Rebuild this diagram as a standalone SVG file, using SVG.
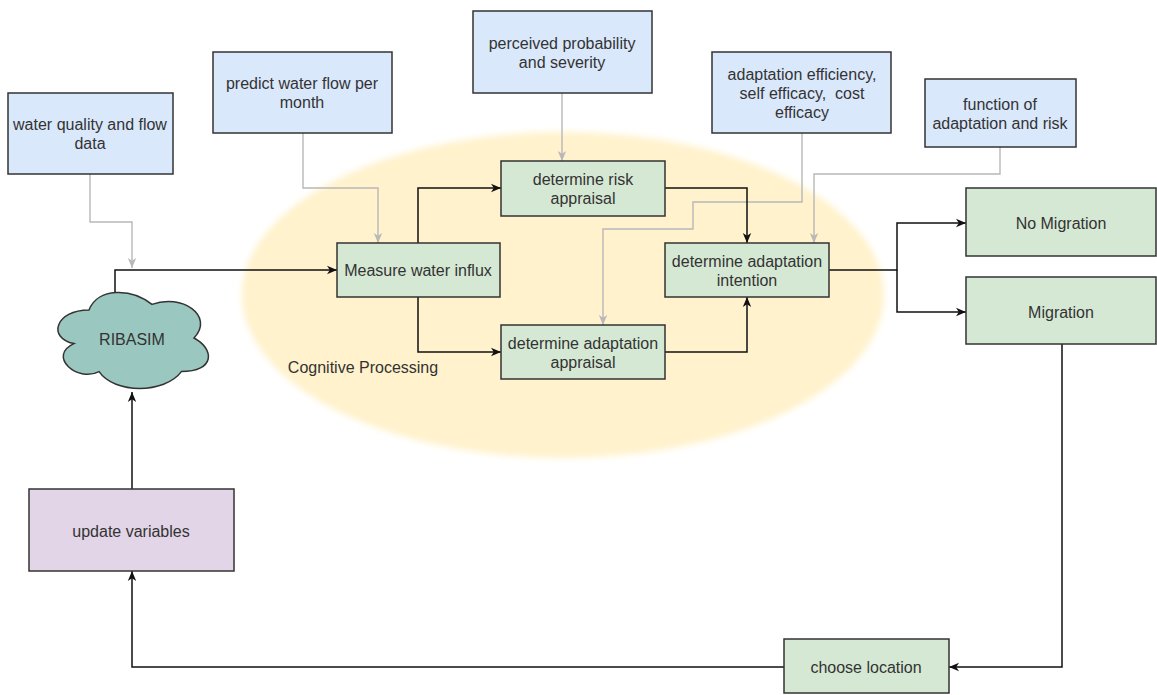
<svg xmlns="http://www.w3.org/2000/svg" width="1157" height="695" viewBox="0 0 1157 695">
<style>
  text { font-family: "Liberation Sans", Arial, sans-serif; font-size: 16px; fill: #333333; text-anchor: middle; }
  .blue { fill: #dae8fc; stroke: #333333; stroke-width: 1.5; }
  .green { fill: #d5e8d4; stroke: #333333; stroke-width: 1.5; }
  .purple { fill: #e1d5e7; stroke: #333333; stroke-width: 1.5; }
  .cloud { fill: #9ac7bf; stroke: #333333; stroke-width: 1.5; }
  .blk { fill: none; stroke: #111111; stroke-width: 1.5; marker-end: url(#ab); }
  .blkn { fill: none; stroke: #111111; stroke-width: 1.5; }
  .gry { fill: none; stroke: #b8b8b8; stroke-width: 1.4; marker-end: url(#ag); }
</style>
<defs>
  <marker id="ab" markerUnits="userSpaceOnUse" markerWidth="12" markerHeight="12" refX="10" refY="5" orient="auto">
    <path d="M0,0.8 L10,5 L0,9.2 L2.8,5 Z" fill="#111111"/>
  </marker>
  <marker id="ag" markerUnits="userSpaceOnUse" markerWidth="12" markerHeight="12" refX="10" refY="5" orient="auto">
    <path d="M0,0.8 L10,5 L0,9.2 L2.8,5 Z" fill="#b8b8b8"/>
  </marker>
  <filter id="soft" x="-10%" y="-10%" width="120%" height="120%">
    <feGaussianBlur stdDeviation="3"/>
  </filter>
</defs>
<rect width="1157" height="695" fill="#ffffff"/>

<g id="cognitive-processing">
  <ellipse cx="563" cy="295" rx="321" ry="163" fill="#fff2cc" filter="url(#soft)"/>
  <text x="363" y="373">Cognitive Processing</text>
</g>

<g id="connectors">
  <path class="gry" d="M90,174 V222 H132 V268"/>
  <path class="gry" d="M303,133 V188 H378 V243"/>
  <path class="gry" d="M562,93 V161"/>
  <path class="gry" d="M802,133 V202 H693 V229 H603 V325"/>
  <path class="gry" d="M1000,147 V174 H814 V243"/>
  <path class="blk" d="M115,293 V270 H337"/>
  <path class="blk" d="M418,243 V188 H501"/>
  <path class="blk" d="M665,188 H747 V243"/>
  <path class="blk" d="M418,297 V352 H501"/>
  <path class="blk" d="M665,352 H747 V297"/>
  <path class="blk" d="M829,270 H897 V223 H966"/>
  <path class="blk" d="M897,270 V312 H966"/>
  <path class="blk" d="M1062,344 V667 H949"/>
  <path class="blk" d="M784,667 H132 V571"/>
  <path class="blk" d="M132,489 V392"/>
</g>

<g id="water-quality">
  <rect class="blue" x="8" y="93" width="165" height="81"/>
  <text x="90" y="130">water quality and flow</text>
  <text x="90" y="149">data</text>
</g>
<g id="predict-flow">
  <rect class="blue" x="213" y="52" width="179" height="81"/>
  <text x="302" y="89">predict water flow per</text>
  <text x="302" y="108">month</text>
</g>
<g id="perceived">
  <rect class="blue" x="473" y="11" width="179" height="82"/>
  <text x="562" y="49">perceived probability</text>
  <text x="562" y="68">and severity</text>
</g>
<g id="adaptation-efficiency">
  <rect class="blue" x="712" y="52" width="179" height="81"/>
  <text x="802" y="80">adaptation efficiency,</text>
  <text x="802" y="99">self efficacy,&#160; cost</text>
  <text x="802" y="118">efficacy</text>
</g>
<g id="function-adaptation-risk">
  <rect class="blue" x="925" y="79" width="151" height="68"/>
  <text x="1000" y="110">function of</text>
  <text x="1000" y="129">adaptation and risk</text>
</g>

<g id="ribasim">
  <path class="cloud" d="M89,310 C55.4,310 47,338 73.9,343.6 C47,355.9 77.2,382.8 99.1,371.6 C114.2,394 164.6,394 181.4,371.6 C215,371.6 215,349.2 194,338 C215,315.6 181.4,293.2 152,304.4 C131,287.6 97.4,287.6 89,310 Z"/>
  <text x="132" y="345">RIBASIM</text>
</g>

<g id="measure-water-influx">
  <rect class="green" x="337" y="243" width="163" height="54"/>
  <text x="418" y="276">Measure water influx</text>
</g>
<g id="risk-appraisal">
  <rect class="green" x="501" y="161" width="164" height="55"/>
  <text x="583" y="185">determine risk</text>
  <text x="583" y="204">appraisal</text>
</g>
<g id="adaptation-appraisal">
  <rect class="green" x="501" y="325" width="164" height="54"/>
  <text x="583" y="349">determine adaptation</text>
  <text x="583" y="368">appraisal</text>
</g>
<g id="adaptation-intention">
  <rect class="green" x="665" y="243" width="164" height="54"/>
  <text x="747" y="267">determine adaptation</text>
  <text x="747" y="286">intention</text>
</g>
<g id="no-migration">
  <rect class="green" x="966" y="188" width="190" height="68"/>
  <text x="1061" y="229">No Migration</text>
</g>
<g id="migration">
  <rect class="green" x="966" y="277" width="190" height="67"/>
  <text x="1061" y="318">Migration</text>
</g>
<g id="choose-location">
  <rect class="green" x="784" y="639" width="165" height="54"/>
  <text x="866" y="673">choose location</text>
</g>
<g id="update-variables">
  <rect class="purple" x="29" y="489" width="205" height="82"/>
  <text x="131" y="537">update variables</text>
</g>
</svg>
